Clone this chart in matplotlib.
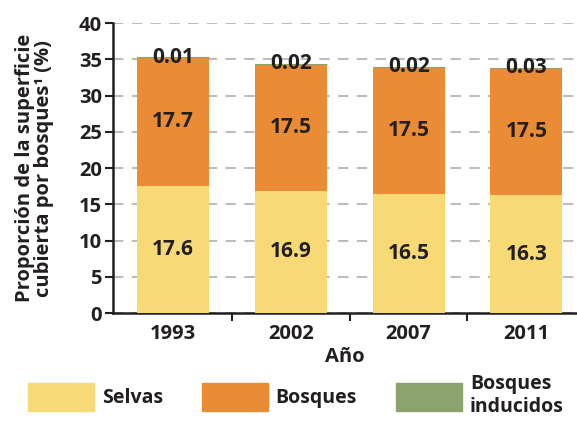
import numpy as np
import matplotlib.pyplot as plt
from matplotlib.patches import Patch

plt.rcParams['font.family'] = ['Open Sans', 'DejaVu Sans']

years = ['1993', '2002', '2007', '2011']
selvas = [17.6, 16.9, 16.5, 16.3]
bosques = [17.7, 17.5, 17.5, 17.5]
inducidos = [0.01, 0.02, 0.02, 0.03]

c_selvas = '#F7DA76'
c_bosques = '#E98C35'
c_induc = '#8DA36E'
ink = '#231f20'
wt = 'bold'

fig = plt.figure(figsize=(5.77, 4.22), dpi=100)
ax = fig.add_axes([0.196, 0.258, 0.804, 0.687])

x = np.arange(len(years))
w = 0.61
ax.bar(x, selvas, w, color=c_selvas, zorder=3)
ax.bar(x, bosques, w, bottom=selvas, color=c_bosques, zorder=3)
tops = np.array(selvas) + np.array(bosques)
ax.bar(x, inducidos, w, bottom=tops, color=c_induc, zorder=3, linewidth=0.8, edgecolor=c_induc)

lbl = dict(ha='center', va='center', fontsize=15, fontweight=wt, color=ink, zorder=4)
for i in range(len(years)):
    ax.text(x[i], selvas[i] / 2, f'{selvas[i]}', **lbl)
    ax.text(x[i], selvas[i] + bosques[i] / 2, f'{bosques[i]}', **lbl)
    ax.text(x[i], tops[i] + inducidos[i], f'{inducidos[i]:.2f}', **lbl)

ax.set_xlim(-0.51, 3.43)
ax.set_ylim(0, 40)
ax.set_yticks(range(0, 41, 5))
ax.set_xticks(x)
ax.set_xticklabels(years)
ax.set_xticks([0.5, 1.5, 2.5], minor=True)
ax.tick_params(axis='x', which='major', length=0, pad=8, labelsize=14.5)
ax.tick_params(axis='x', which='minor', length=6, width=1.5, direction='out', color=ink)
ax.tick_params(axis='y', length=6, width=1.5, labelsize=14.5, pad=2, colors=ink)
for t in ax.get_xticklabels() + ax.get_yticklabels():
    t.set_fontweight(wt)
    t.set_color(ink)

ax.grid(axis='y', linestyle=(0, (5, 4)), color='#bdbdbd', linewidth=1.5, zorder=0)
ax.spines['top'].set_visible(False)
ax.spines['right'].set_visible(False)
for s in ['left', 'bottom']:
    ax.spines[s].set_linewidth(1.8)
    ax.spines[s].set_color(ink)

ax.set_xlabel('Año', fontsize=14.5, fontweight=wt, color=ink, labelpad=2)
ax.set_ylabel('Proporción de la superficie\ncubierta por bosques¹ (%)', fontsize=14.5,
              fontweight=wt, color=ink, linespacing=0.95, labelpad=18)

handles = [Patch(color=c_selvas, label='Selvas'),
           Patch(color=c_bosques, label='Bosques'),
           Patch(color=c_induc, label='Bosques\ninducidos')]
fig.legend(handles=handles, loc='lower left', bbox_to_anchor=(0.018, -0.03), ncol=3,
           frameon=False, handlelength=3.4, handleheight=1.9,
           columnspacing=2.0, handletextpad=0.4, labelspacing=0.2,
           prop={'weight': wt, 'size': 14}, labelcolor=ink)

fig.savefig('out.png', dpi=100)
